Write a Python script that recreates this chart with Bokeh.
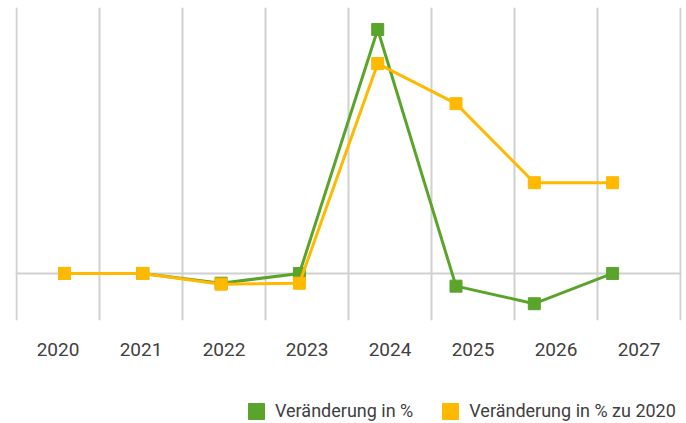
from bokeh.plotting import figure
from bokeh.layouts import column
from bokeh.models import Range1d, FixedTicker, Legend, LegendItem, LinearAxis, Grid
from bokeh.embed import file_html
from bokeh.resources import INLINE

years = ["2020", "2021", "2022", "2023", "2024", "2025", "2026", "2027"]
change = [0.0, 0.0, -1.0, 0.0, 25.0, -1.3, -3.1, 0.0]
change_vs_2020 = [0.0, 0.0, -1.1, -1.0, 21.5, 17.4, 9.3, 9.3]
series_labels = ["Veränderung in %", "Veränderung in % zu 2020"]

GREEN = "#5ba42c"
YELLOW = "#ffb900"
GRID = "#d0d0d0"
TEXT = "#404040"
FONT = "Roboto"

idx = list(range(len(years)))
n = len(years)
pad = 0.012

p = figure(width=686, height=365, output_backend="svg", toolbar_location=None,
           x_range=Range1d(-pad, n + pad), y_range=Range1d(-4.82, 27.25),
           x_axis_location=None, y_axis_location=None,
           min_border_left=15, min_border_right=5, min_border_top=7, min_border_bottom=45)
p.outline_line_color = None
p.background_fill_color = "white"
p.border_fill_color = "white"
p.xgrid.visible = False
p.ygrid.visible = False
p.extra_x_ranges = {"pts": Range1d(-0.626, 7.880)}

p.add_layout(Grid(dimension=0, ticker=FixedTicker(ticks=list(range(n + 1))),
                  bounds=(-1, n + 1), grid_line_color=GRID, grid_line_width=2))
p.add_layout(Grid(dimension=1, ticker=FixedTicker(ticks=[0]),
                  grid_line_color=GRID, grid_line_width=2))

xaxis = LinearAxis(ticker=FixedTicker(ticks=[i + 0.5 for i in idx]),
                   major_label_overrides={i + 0.5: y for i, y in enumerate(years)})
xaxis.axis_line_color = None
xaxis.major_tick_line_color = None
xaxis.minor_tick_line_color = None
xaxis.major_label_standoff = 16
xaxis.major_label_text_font = FONT
xaxis.major_label_text_font_size = "19px"
xaxis.major_label_text_color = TEXT
p.add_layout(xaxis, "below")

p.line(idx, change, x_range_name="pts", line_color=GREEN, line_width=3)
p.scatter(idx, change, x_range_name="pts", marker="square", size=12,
          fill_color=GREEN, line_color=GREEN)
p.line(idx, change_vs_2020, x_range_name="pts", line_color=YELLOW, line_width=3)
p.scatter(idx, change_vs_2020, x_range_name="pts", marker="square", size=12,
          fill_color=YELLOW, line_color=YELLOW)

# legend strip
q = figure(width=686, height=58, output_backend="svg", toolbar_location=None,
           x_range=Range1d(0, 1), y_range=Range1d(0, 1),
           x_axis_location=None, y_axis_location=None,
           min_border_left=0, min_border_right=0, min_border_top=0, min_border_bottom=0)
q.outline_line_color = None
q.xgrid.visible = False
q.ygrid.visible = False
q.background_fill_color = "white"
q.border_fill_color = "white"
sw_g = q.rect(x=[0.5], y=[0.5], width=0.1, height=0.1, fill_color=GREEN, line_color=GREEN)
sw_y = q.rect(x=[0.5], y=[0.5], width=0.1, height=0.1, fill_color=YELLOW, line_color=YELLOW)
sw_g.visible = False
sw_y.visible = False

legend = Legend(items=[LegendItem(label=series_labels[0], renderers=[sw_g]),
                       LegendItem(label=series_labels[1], renderers=[sw_y])],
                orientation="horizontal", location=(231, 2))
legend.margin = 0
legend.padding = 0
legend.spacing = 27
legend.glyph_width = 20
legend.glyph_height = 20
legend.label_standoff = 9
legend.label_text_font = FONT
legend.label_text_font_size = "18px"
legend.label_text_color = TEXT
legend.border_line_color = None
legend.background_fill_alpha = 0
legend.inactive_fill_alpha = 0
q.add_layout(legend, "center")

layout = column(p, q, spacing=0)
open("out.html", "w").write(file_html(layout, INLINE))
